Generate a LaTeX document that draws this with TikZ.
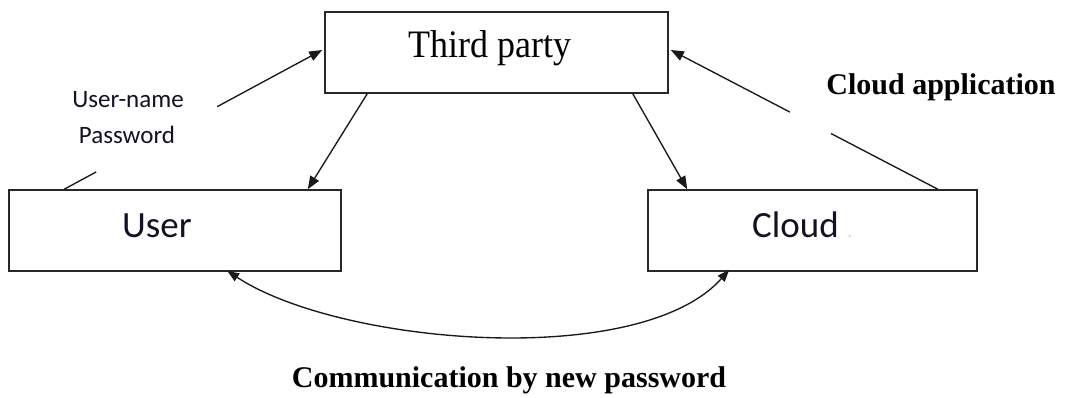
\documentclass[tikz,border=0pt]{standalone}
\usepackage{fontspec}
\setmainfont{Liberation Serif}
\newfontfamily\calibrifont{Carlito}
\usetikzlibrary{arrows.meta,calc}
\definecolor{boxgray}{RGB}{40,40,40}
\definecolor{inktext}{RGB}{18,18,38}
\definecolor{dotorange}{RGB}{250,212,175}

\begin{document}
\begin{tikzpicture}[x=1pt,y=-1pt,
  box/.style={draw=boxgray, line width=1.6pt, inner sep=0pt, minimum height=81pt},
  link/.style={draw=black!90, line width=1.35pt},
  tip/.style={-{Triangle[length=13pt,width=10pt]}},
  boxtext/.style={anchor=base, text=inktext, font=\calibrifont\fontsize{37}{44}\selectfont, inner sep=0pt},
  smalltext/.style={anchor=base, text=inktext, font=\calibrifont\fontsize{25}{30}\selectfont, inner sep=0pt},
  serifbold/.style={anchor=base, font=\bfseries\fontsize{30}{36}\selectfont, inner sep=0pt}
]
\useasboundingbox (0,0) rectangle (1065,397);

% boxes
\node[box, minimum width=343pt] (third) at (496.5,52.5) {};
\node[box, minimum width=332pt] (user)  at (175,230.5) {};
\node[box, minimum width=329pt] (cloud) at (812.5,230.5) {};

% box captions
\node[anchor=base, inner sep=0pt, font=\fontsize{36}{42}\selectfont] (thirdtext) at (490,57) {\scalebox{1}[1.08]{Third party}};
\node[boxtext] (usertext) at (157,237) {User};
\node[boxtext, anchor=base west] (cloudtext) at (752,237) {Cloud \textcolor{dotorange}{\fontsize{22}{26}\selectfont.}};

% free labels
\node[smalltext] (unametext) at (128,107) {User-name};
\node[smalltext] (pwtext) at (127,143) {Password};
\node[serifbold] (apptext) at (941,94) {Cloud application};
\node[serifbold] (commtext) at (509,387) {Communication by new password};

% user -> third party (broken around the credentials label)
\coordinate (ua) at ($(user.north west)+(56,0)$);
\coordinate (ub) at ($(third.west)+(-2,-2.5)$);
\draw[link] (ua) -- ($(ua)!0.124!(ub)$);
\draw[link, tip] ($(ua)!0.593!(ub)$) -- (ub);

% third party -> user, third party -> cloud
\draw[link, tip] ($(third.south west)+(43,0)$) -- ($(user.north east)+(-34,0)$);
\draw[link, tip] ($(third.south east)+(-36,0)$) -- ($(cloud.north west)+(40,0)$);

% cloud -> third party (broken before the application label)
\coordinate (ca) at ($(cloud.north east)+(-40,0)$);
\coordinate (cb) at ($(third.east)+(2,-2.5)$);
\draw[link] (ca) -- ($(ca)!0.40!(cb)$);
\draw[link, tip] ($(ca)!0.554!(cb)$) -- (cb);

% user <-> cloud
\draw[link, {Triangle[length=12pt,width=9pt]}-{Triangle[length=12pt,width=9pt]}]
  ($(user.south west)+(219,-1)$) .. controls (340,345) and (640,370) .. ($(cloud.south west)+(82,-2)$);
\end{tikzpicture}
\end{document}
